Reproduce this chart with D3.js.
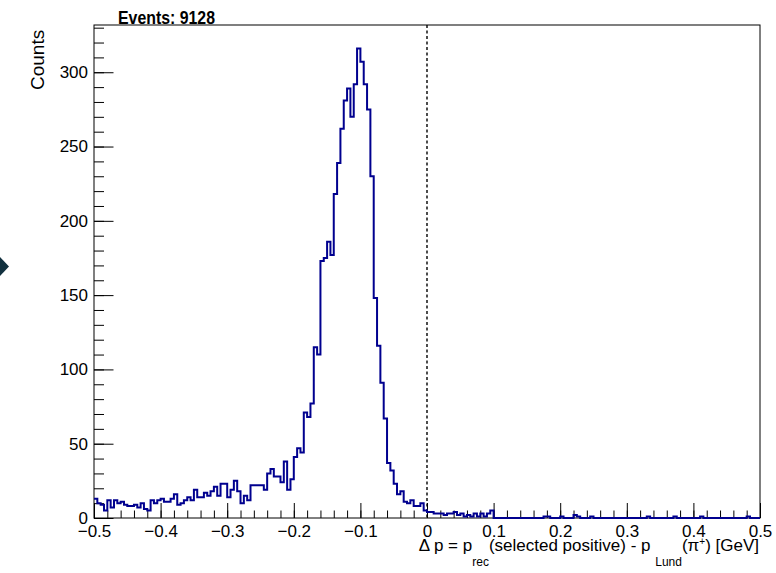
<!DOCTYPE html>
<html>
<head>
<meta charset="utf-8">
<script src="https://cdn.jsdelivr.net/npm/d3@7"></script>
<style>
  body { margin: 0; background: #fff; }
  svg text { font-family: "Liberation Sans", Arial, Helvetica, sans-serif; }
</style>
</head>
<body>
<svg id="chart"></svg>
<script>
// histogram range and bin counts (200 bins of 0.005 GeV, from -0.5 to 0.5)
const xMin = -0.5;
const xMax = 0.5;
const binWidth = 0.005;

const counts = [
  // -0.5 .. -0.255
  13, 10, 9, 5, 12, 7, 12, 10, 11, 9,
  8, 8, 9, 7, 10, 6, 5, 12, 10, 12,
  13, 11, 11, 13, 16, 9, 10, 12, 14, 12,
  19, 14, 14, 17, 15, 18, 21, 15, 23, 23,
  14, 19, 25, 18, 10, 15, 12, 22, 22, 22,
  // -0.25 .. -0.005
  22, 19, 30, 33, 28, 28, 24, 38, 19, 26,
  41, 47, 44, 71, 68, 77, 115, 110, 173, 175,
  186, 177, 218, 239, 262, 281, 289, 270, 292, 316,
  307, 292, 275, 230, 148, 116, 91, 67, 37, 32,
  23, 16, 18, 11, 10, 12, 8, 8, 10, 5,
  // 0 .. 0.245
  4, 4, 3, 3, 3, 2, 3, 3, 4, 2,
  3, 1, 2, 1, 3, 1, 3, 1, 3, 5,
  0, 0, 0, 0, 0, 0, 0, 0, 0, 0,
  0, 0, 0, 0, 0, 1, 1, 0, 0, 0,
  1, 0, 0, 0, 2, 1, 0, 0, 0, 1,
  // 0.25 .. 0.495
  0, 0, 0, 0, 0, 0, 0, 0, 0, 0,
  0, 0, 0, 0, 0, 0, 1, 0, 0, 0,
  0, 0, 0, 0, 1, 0, 0, 0, 0, 0,
  0, 0, 1, 0, 0, 0, 0, 0, 0, 0,
  0, 0, 0, 0, 0, 0, 1, 0, 0, 0
];

const xMajorTicks = [-0.5, -0.4, -0.3, -0.2, -0.1, 0, 0.1, 0.2, 0.3, 0.4, 0.5];
const xTickLabels = ["\u22120.5", "\u22120.4", "\u22120.3", "\u22120.2", "\u22120.1", "0", "0.1", "0.2", "0.3", "0.4", "0.5"];
const yMajorTicks = [0, 50, 100, 150, 200, 250, 300];
const yMax = 331.8;
const titleText = "Events: 9128";

const width = 776, height = 573;
const frame = { left: 94, right: 760, top: 25, bottom: 518 };

const svg = d3.select('#chart')
  .attr('width', width)
  .attr('height', height);

const x = d3.scaleLinear().domain([xMin, xMax]).range([frame.left, frame.right]);
const y = d3.scaleLinear().domain([0, yMax]).range([frame.bottom, frame.top]);

// little dark marker on the left border
svg.append('path')
  .attr('d', 'M-9,266.5 L0,257 L9,266.5 L0,276 Z')
  .attr('fill', '#12313f');

// frame box
svg.append('rect')
  .attr('x', frame.left).attr('y', frame.top)
  .attr('width', frame.right - frame.left)
  .attr('height', frame.bottom - frame.top)
  .attr('fill', 'none')
  .attr('stroke', '#000')
  .attr('stroke-width', 1);

// minor ticks (drawn first, labels off)
const xMinor = d3.range(-50, 51, 2).map(d => d / 100);
svg.append('g')
  .attr('transform', `translate(0,${frame.bottom})`)
  .call(d3.axisBottom(x).tickValues(xMinor).tickSize(-7.5).tickFormat(''))
  .call(g => g.select('.domain').remove());

const yMinor = d3.range(0, 331, 10);
svg.append('g')
  .attr('transform', `translate(${frame.left},0)`)
  .call(d3.axisLeft(y).tickValues(yMinor).tickSize(-10).tickFormat(''))
  .call(g => g.select('.domain').remove());

// major ticks + labels
const xAxis = svg.append('g')
  .attr('transform', `translate(0,${frame.bottom})`)
  .call(d3.axisBottom(x)
    .tickValues(xMajorTicks)
    .tickSize(-15)
    .tickPadding(7)
    .tickFormat((d, i) => xTickLabels[i]));
xAxis.select('.domain').remove();
xAxis.selectAll('text').attr('font-size', 17).attr('fill', '#000');

const yAxis = svg.append('g')
  .attr('transform', `translate(${frame.left},0)`)
  .call(d3.axisLeft(y)
    .tickValues(yMajorTicks)
    .tickSize(-19.5)
    .tickPadding(6));
yAxis.select('.domain').remove();
yAxis.selectAll('text').attr('font-size', 17).attr('fill', '#000');

// dashed line at zero
svg.append('line')
  .attr('x1', x(0)).attr('x2', x(0))
  .attr('y1', frame.top).attr('y2', frame.bottom)
  .attr('stroke', '#000')
  .attr('stroke-width', 1.4)
  .attr('stroke-dasharray', '3,2.5');

// histogram outline
const pts = counts.map((c, i) => [xMin + i * binWidth, c]);
pts.push([xMax, counts[counts.length - 1]]);
const step = d3.line()
  .x(d => x(d[0]))
  .y(d => y(d[1]))
  .curve(d3.curveStepAfter);
svg.append('path')
  .datum(pts)
  .attr('d', step)
  .attr('fill', 'none')
  .attr('stroke', '#00008f')
  .attr('stroke-width', 2);

// title
svg.append('text')
  .attr('x', 118).attr('y', 24)
  .attr('font-size', 18)
  .attr('font-weight', 'bold')
  .attr('textLength', 97)
  .attr('lengthAdjust', 'spacingAndGlyphs')
  .text(titleText);

// y title
svg.append('text')
  .attr('transform', `translate(44,90) rotate(-90)`)
  .attr('font-size', 19)
  .text('Counts');

// x title with sub/superscripts
const xt = svg.append('text')
  .attr('x', 759).attr('y', 551)
  .attr('text-anchor', 'end')
  .attr('font-size', 17);
xt.append('tspan').text('\u0394 p = p');
xt.append('tspan').attr('font-size', 12).attr('dy', 15).text('rec');
xt.append('tspan').attr('dy', -15).text('(selected positive) - p ');
xt.append('tspan').attr('font-size', 12).attr('dy', 15).text('Lund');
xt.append('tspan').attr('dy', -15).text('(\u03c0');
xt.append('tspan').attr('font-size', 10).attr('dy', -6).text('+');
xt.append('tspan').attr('dy', 6).text(') [GeV]');
</script>
</body>
</html>
